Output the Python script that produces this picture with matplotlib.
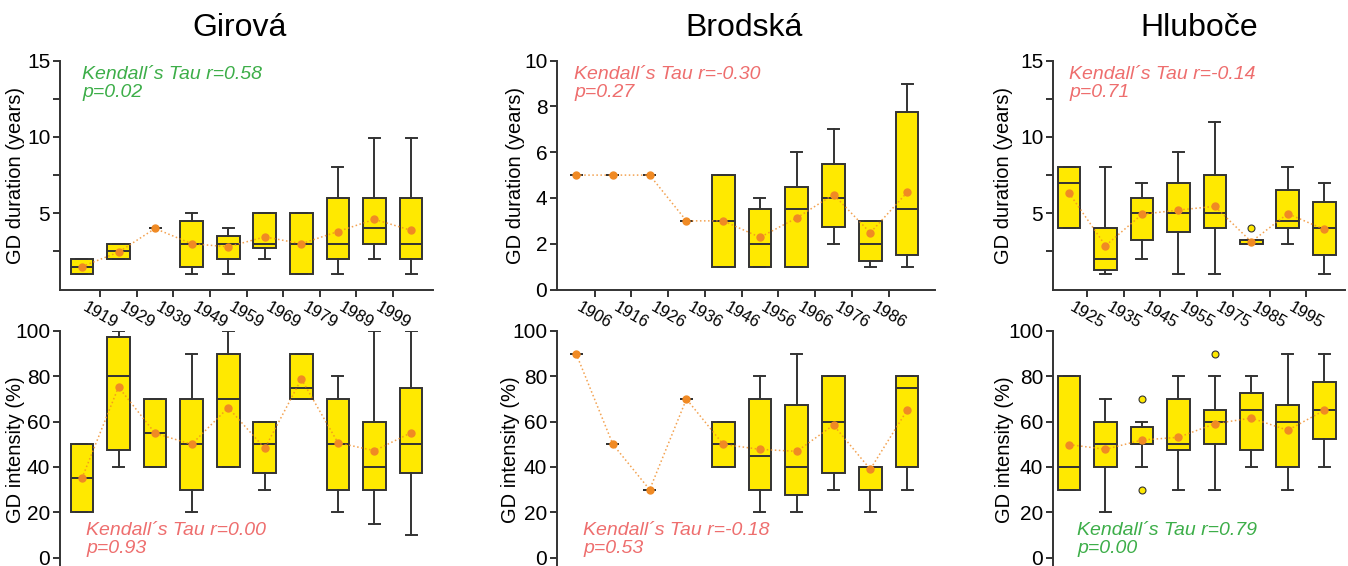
import numpy as np
import matplotlib
matplotlib.use('Agg')
import matplotlib.pyplot as plt

plt.rcParams['font.family'] = ['Liberation Sans', 'DejaVu Sans']

# sites and decade labels
sites = ['Girová', 'Brodská', 'Hluboče']
girova_years = ['1919', '1929', '1939', '1949', '1959', '1969', '1979', '1989', '1999']
brodska_years = ['1906', '1916', '1926', '1936', '1946', '1956', '1966', '1976', '1986']
hluboce_years = ['1925', '1935', '1945', '1955', '1975', '1985', '1995']

# GD duration (years) - box stats
girova_dur_lo = [1, 2, 4, 1, 1, 2, 1, 1, 2, 1]
girova_dur_q1 = [1, 2, 4, 1.5, 2, 2.75, 1, 2, 3, 2]
girova_dur_med = [1.5, 2.5, 4, 3, 3, 3, 3, 3, 4, 3]
girova_dur_q3 = [2, 3, 4, 4.5, 3.5, 5, 5, 6, 6, 6]
girova_dur_hi = [2, 3, 4, 5, 4, 5, 5, 8, 9.9, 9.9]
girova_dur_mean = [1.5, 2.45, 4, 3, 2.8, 3.45, 3, 3.8, 4.6, 3.88]

brodska_dur_lo = [5, 5, 5, 3, 1, 1, 1, 2, 1, 1]
brodska_dur_q1 = [5, 5, 5, 3, 1, 1, 1, 2.75, 1.25, 1.5]
brodska_dur_med = [5, 5, 5, 3, 3, 2, 3.5, 4, 2, 3.5]
brodska_dur_q3 = [5, 5, 5, 3, 5, 3.5, 4.5, 5.5, 3, 7.75]
brodska_dur_hi = [5, 5, 5, 3, 5, 4, 6, 7, 3, 9]
brodska_dur_mean = [5, 5, 5, 3, 3, 2.28, 3.13, 4.15, 2.48, 4.24]

hluboce_dur_lo = [4, 1, 2, 1, 1, 3, 3, 1]
hluboce_dur_q1 = [4, 1.25, 3.25, 3.75, 4, 3, 4, 2.25]
hluboce_dur_med = [7, 2, 5, 5, 5, 3, 4.5, 4]
hluboce_dur_q3 = [8, 4, 6, 7, 7.5, 3.25, 6.5, 5.75]
hluboce_dur_hi = [8, 8, 7, 9, 11, 3.25, 8, 7]
hluboce_dur_mean = [6.33, 2.87, 4.93, 5.21, 5.45, 3.13, 4.97, 3.94]
hluboce_dur_fliers = [[], [], [], [], [], [4], [], []]

# GD intensity (%)
girova_int_lo = [20, 40, 40, 20, 40, 30, 70, 20, 15, 10]
girova_int_q1 = [20, 47.5, 40, 30, 40, 37.5, 70, 30, 30, 37.5]
girova_int_med = [35, 80, 55, 50, 70, 50, 75, 50, 40, 50]
girova_int_q3 = [50, 97.5, 70, 70, 90, 60, 90, 70, 60, 75]
girova_int_hi = [50, 100, 70, 90, 100, 60, 90, 80, 100, 100]
girova_int_mean = [35, 75.3, 54.9, 50, 66.2, 48.2, 78.8, 50.7, 47.2, 55.1]

brodska_int_lo = [90, 50, 30, 70, 40, 20, 20, 30, 20, 30]
brodska_int_q1 = [90, 50, 30, 70, 40, 30, 27.5, 37.5, 30, 40]
brodska_int_med = [90, 50, 30, 70, 50, 45, 40, 60, 40, 75]
brodska_int_q3 = [90, 50, 30, 70, 60, 70, 67.5, 80, 40, 80]
brodska_int_hi = [90, 50, 30, 70, 60, 80, 90, 80, 40, 80]
brodska_int_mean = [90, 50, 30, 70, 50, 47.8, 46.9, 58.5, 39, 65]

hluboce_int_lo = [30, 20, 40, 30, 30, 40, 30, 40]
hluboce_int_q1 = [30, 40, 50, 47.5, 50, 47.5, 40, 52.5]
hluboce_int_med = [40, 50, 50, 50, 60, 65, 60, 65]
hluboce_int_q3 = [80, 60, 57.5, 70, 65, 72.5, 67.5, 77.5]
hluboce_int_hi = [80, 70, 60, 80, 80, 80, 90, 90]
hluboce_int_mean = [49.9, 47.8, 51.9, 53.1, 59.1, 61.6, 56.2, 65]
hluboce_int_fliers = [[], [], [70, 30], [], [90], [], [], []]

# Kendall annotations
dur_r = ['0.58', '-0.30', '-0.14']
dur_p = ['0.02', '0.27', '0.71']
int_r = ['0.00', '-0.18', '0.79']
int_p = ['0.93', '0.53', '0.00']
dur_signif = [True, False, False]
int_signif = [False, False, True]

YELLOW = '#FFE900'
EDGE = '#333333'
ORANGE = '#F08A24'
RED_TXT = '#EE6E6E'
GREEN_TXT = '#3DAE49'

W, H = 1348, 566
fig = plt.figure(figsize=(W / 100, H / 100), dpi=100)


def px_axes(x0, y_top, x1, y_bot):
    return fig.add_axes([x0 / W, 1 - y_bot / H, (x1 - x0) / W, (y_bot - y_top) / H])


def draw_boxes(ax, lo, q1, med, q3, hi, mean, fliers=None):
    n = len(med)
    pos = np.arange(1, n + 1)
    if fliers is None:
        fliers = [[] for _ in range(n)]
    stats = []
    widths = []
    for i in range(n):
        stats.append(dict(whislo=lo[i], q1=q1[i], med=med[i], q3=q3[i],
                          whishi=hi[i], fliers=fliers[i]))
        widths.append(0.3 if q1[i] == q3[i] else 0.62)
    ax.bxp(stats, positions=pos, widths=widths, capwidths=0.3, patch_artist=True,
           showfliers=True,
           boxprops=dict(facecolor=YELLOW, edgecolor=EDGE, linewidth=1.4),
           medianprops=dict(color=EDGE, linewidth=1.4),
           whiskerprops=dict(color=EDGE, linewidth=1.4),
           capprops=dict(color=EDGE, linewidth=1.4),
           flierprops=dict(marker='o', markerfacecolor=YELLOW, markeredgecolor=EDGE,
                           markersize=5, markeredgewidth=0.8))
    ax.plot(pos, mean, linestyle=':', color=ORANGE, linewidth=1.1, alpha=0.8, zorder=4)
    ax.plot(pos, mean, linestyle='none', marker='o', color=ORANGE, markersize=5, zorder=5)
    return pos


def style(ax):
    for s in ['top', 'right']:
        ax.spines[s].set_visible(False)
    for s in ['left', 'bottom']:
        ax.spines[s].set_linewidth(1.4)
        ax.spines[s].set_color(EDGE)
    ax.tick_params(axis='both', direction='out', length=5, width=1.4, color=EDGE,
                   labelsize=15, pad=2)


# column layout in pixels: (y-axis x, right end, xlim)
cols = [(60, 433, 0.4, 10.6), (557, 935, 0.48, 10.76), (1053, 1345, 0.56, 8.57)]
title_x = [240, 744, 1199]
text_x_top = [82, 574, 1069]
text_x_bot = [86, 583, 1077]
ylab_x_top = [25, 525, 1013]
ylab_x_bot = [25, 520, 1014]

dur_data = [
    (girova_dur_lo, girova_dur_q1, girova_dur_med, girova_dur_q3, girova_dur_hi, girova_dur_mean, None),
    (brodska_dur_lo, brodska_dur_q1, brodska_dur_med, brodska_dur_q3, brodska_dur_hi, brodska_dur_mean, None),
    (hluboce_dur_lo, hluboce_dur_q1, hluboce_dur_med, hluboce_dur_q3, hluboce_dur_hi, hluboce_dur_mean, hluboce_dur_fliers),
]
int_data = [
    (girova_int_lo, girova_int_q1, girova_int_med, girova_int_q3, girova_int_hi, girova_int_mean, None),
    (brodska_int_lo, brodska_int_q1, brodska_int_med, brodska_int_q3, brodska_int_hi, brodska_int_mean, None),
    (hluboce_int_lo, hluboce_int_q1, hluboce_int_med, hluboce_int_q3, hluboce_int_hi, hluboce_int_mean, hluboce_int_fliers),
]
year_labels = [girova_years, brodska_years, hluboce_years]

for k in range(3):
    x0, x1, xl, xr = cols[k]

    # top: duration
    ax = px_axes(x0, 60.7, x1, 289.5)
    pos = draw_boxes(ax, *dur_data[k])
    style(ax)
    ax.set_xlim(xl, xr)
    if k == 1:
        ax.set_ylim(0, 10)
        ax.set_yticks([0, 2, 4, 6, 8, 10])
    else:
        ax.set_ylim(0, 15)
        ax.set_yticks([2.5, 5, 7.5, 10, 12.5, 15])
        ax.set_yticklabels(['', '5', '', '10', '', '15'])
    ax.set_xticks(pos[:-1] + 0.5)
    ax.set_xticklabels(year_labels[k], rotation=-30, ha='center', fontsize=12)
    ax.set_ylabel('GD duration (years)', fontsize=14.5)
    ax.yaxis.set_label_coords((ylab_x_top[k] - x0) / (x1 - x0), 0.5)

    c = GREEN_TXT if dur_signif[k] else RED_TXT
    fig.text(text_x_top[k] / W, 1 - 66 / H,
             'Kendall´s Tau r=' + dur_r[k] + '\np=' + dur_p[k],
             color=c, fontsize=14, style='italic', va='top', ha='left', linespacing=1.05)

    fig.text(title_x[k] / W, 1 - 36 / H, sites[k], fontsize=23, ha='center', va='baseline')

    # bottom: intensity
    ax2 = px_axes(x0, 331, x1, 569)
    draw_boxes(ax2, *int_data[k])
    style(ax2)
    ax2.spines['bottom'].set_visible(False)
    ax2.set_xlim(xl, xr)
    ax2.set_ylim(-5, 100)
    ax2.set_yticks([0, 20, 40, 60, 80, 100])
    ax2.set_xticks([])
    ax2.set_ylabel('GD intensity (%)', fontsize=14.5)
    ax2.yaxis.set_label_coords((ylab_x_bot[k] - x0) / (x1 - x0), 0.5)

    c = GREEN_TXT if int_signif[k] else RED_TXT
    fig.text(text_x_bot[k] / W, 1 - 522 / H,
             'Kendall´s Tau r=' + int_r[k] + '\np=' + int_p[k],
             color=c, fontsize=14, style='italic', va='top', ha='left', linespacing=1.05)

fig.savefig('out.png', dpi=100)
